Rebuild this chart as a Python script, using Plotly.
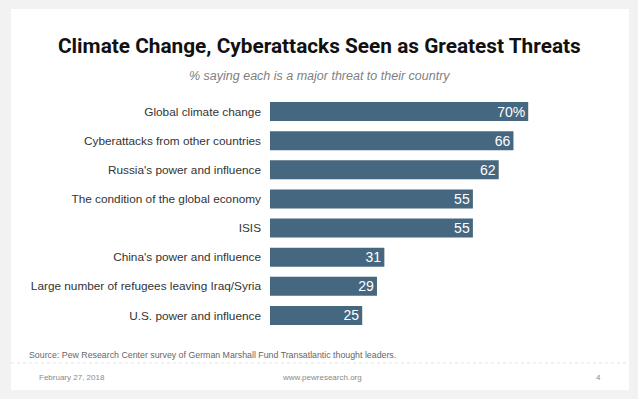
import plotly.graph_objects as go

categories = [
    "Global climate change",
    "Cyberattacks from other countries",
    "Russia's power and influence",
    "The condition of the global economy",
    "ISIS",
    "China's power and influence",
    "Large number of refugees leaving Iraq/Syria",
    "U.S. power and influence",
]
values = [70, 66, 62, 55, 55, 31, 29, 25]
bar_text = [f"{v}%" if i == 0 else str(v) for i, v in enumerate(values)]

title = "Climate Change, Cyberattacks Seen as Greatest Threats"
subtitle = "% saying each is a major threat to their country"
source = "Source: Pew Research Center survey of German Marshall Fund Transatlantic thought leaders."
footer_date = "February 27, 2018"
footer_url = "www.pewresearch.org"
footer_page = "4"

W, H = 638, 399
L, R, T, B = 270, 36, 97, 69
PW, PH = W - L - R, H - T - B

def px(x):
    return (x - L) / PW

def py(y):
    return 1 - (y - T) / PH

BODY = "Liberation Sans, Arial, sans-serif"
TITLE_FONT = "Roboto, Liberation Sans, Arial, sans-serif"

fig = go.Figure(
    go.Bar(
        x=values,
        y=categories,
        orientation="h",
        marker=dict(color="#45677F", line=dict(width=0)),
        text=bar_text,
        textposition="inside",
        insidetextanchor="end",
        textangle=0,
        constraintext="none",
        textfont=dict(color="white", size=14, family=BODY),
        hoverinfo="skip",
    )
)

fig.update_layout(
    width=W,
    height=H,
    margin=dict(l=L, r=R, t=T, b=B, pad=0),
    paper_bgcolor="#f2f2f2",
    plot_bgcolor="rgba(0,0,0,0)",
    bargap=0.35,
    showlegend=False,
    xaxis=dict(range=[0, 90], visible=False, fixedrange=True),
    yaxis=dict(
        categoryorder="array",
        categoryarray=categories,
        range=[7.5, -0.5],
        showgrid=False,
        zeroline=False,
        showline=False,
        ticks="",
        ticklabelstandoff=8,
        tickfont=dict(family=BODY, size=11.8, color="#333333"),
        fixedrange=True,
    ),
    shapes=[
        dict(type="rect", xref="paper", yref="paper",
             x0=px(11), x1=px(629), y0=py(9), y1=py(390),
             fillcolor="white", line=dict(width=0), layer="below"),
        dict(type="line", xref="paper", yref="paper",
             x0=px(11), x1=px(629), y0=py(363), y1=py(363),
             line=dict(color="#e2e2e2", width=1, dash="dot"), layer="below"),
    ],
    annotations=[
        dict(text=f"<b>{title}</b>", xref="paper", yref="paper",
             x=px(319), y=py(46), xanchor="center", yanchor="middle",
             showarrow=False, font=dict(family=TITLE_FONT, size=20.8, color="#111111")),
        dict(text=f"<i>{subtitle}</i>", xref="paper", yref="paper",
             x=px(319), y=py(76), xanchor="center", yanchor="middle",
             showarrow=False, font=dict(family=BODY, size=12.5, color="#808080")),
        dict(text=source, xref="paper", yref="paper",
             x=px(27), y=py(355), xanchor="left", yanchor="middle",
             showarrow=False, font=dict(family=BODY, size=8.8, color="#666666")),
        dict(text=footer_date, xref="paper", yref="paper",
             x=px(37), y=py(377), xanchor="left", yanchor="middle",
             showarrow=False, font=dict(family=BODY, size=8, color="#8a8a8a")),
        dict(text=footer_url, xref="paper", yref="paper",
             x=px(322), y=py(377), xanchor="center", yanchor="middle",
             showarrow=False, font=dict(family=BODY, size=8, color="#8a8a8a")),
        dict(text=footer_page, xref="paper", yref="paper",
             x=px(598), y=py(377), xanchor="center", yanchor="middle",
             showarrow=False, font=dict(family=BODY, size=8, color="#8a8a8a")),
    ],
)

fig.write_html(
    "out.html",
    config=dict(displayModeBar=False),
    post_script="document.body.style.margin='0';",
)
